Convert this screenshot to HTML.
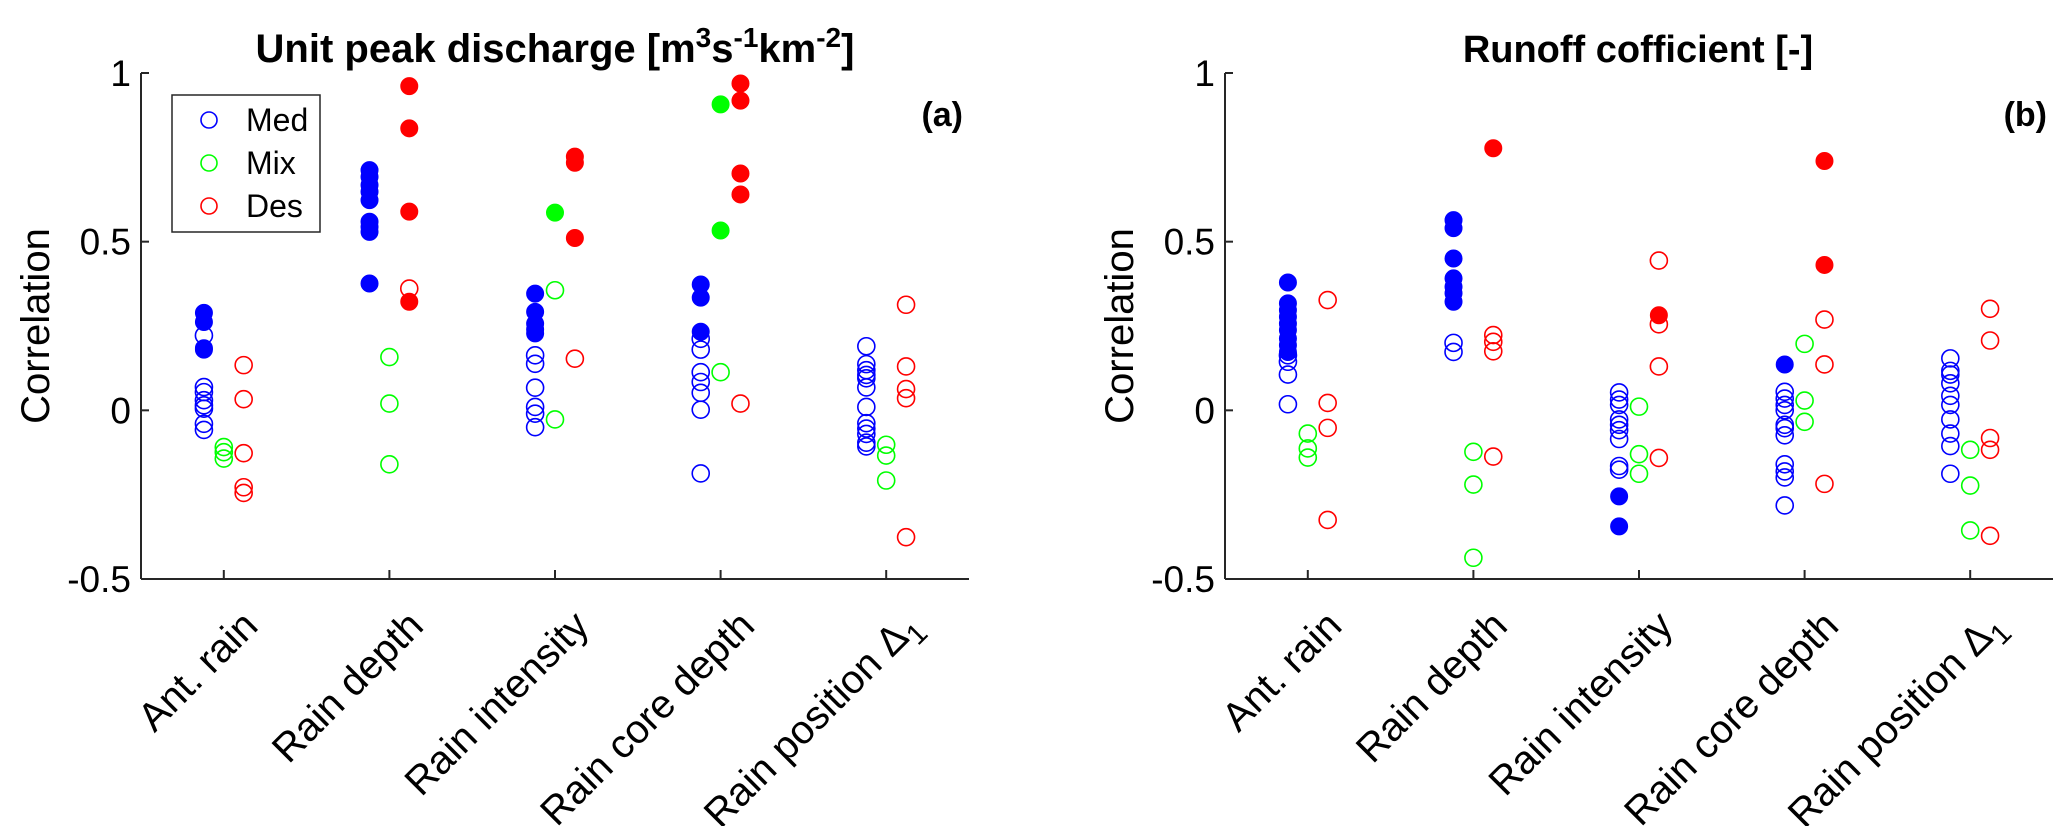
<!DOCTYPE html>
<html><head><meta charset="utf-8"><style>
html,body{margin:0;padding:0;background:#fff;}
svg{display:block;font-family:"Liberation Sans",Arial,sans-serif;}
</style></head><body>
<svg id="chart" width="2067" height="826" viewBox="0 0 2067 826" xmlns="http://www.w3.org/2000/svg"></svg>
<script>
const categories = ["Ant. rain","Rain depth","Rain intensity","Rain core depth","Rain position \u0394"];
const yTicks = [-0.5, 0, 0.5, 1];
const yTickLabels = ["-0.5","0","0.5","1"];
const groupNames = ["Med","Mix","Des"];
const groupColors = ["#0000ff","#00ff00","#ff0000"];

// Panel (a): unit peak discharge
const aMedFilled = [[0.289,0.262,0.184,0.18],[0.712,0.692,0.668,0.648,0.623,0.559,0.544,0.529,0.376],[0.346,0.292,0.257,0.24,0.228],[0.373,0.334,0.233],[]];
const aMedOpen = [[0.222,0.069,0.054,0.03,0.015,0.005,-0.04,-0.058],[],[0.163,0.138,0.067,0.01,-0.01,-0.05],[0.212,0.18,0.113,0.084,0.052,0.002,-0.187],[0.19,0.137,0.119,0.105,0.095,0.068,0.01,-0.038,-0.054,-0.07,-0.096,-0.107]];
const aMixFilled = [[],[],[0.586],[0.907,0.533],[]];
const aMixOpen = [[-0.109,-0.124,-0.143],[0.158,0.02,-0.16],[0.356,-0.027],[0.113],[-0.102,-0.134,-0.208]];
const aDesFilled = [[],[0.961,0.836,0.589,0.322],[0.752,0.734,0.511],[0.969,0.918,0.702,0.64],[]];
const aDesOpen = [[0.134,0.033,-0.127,-0.228,-0.245],[0.361],[0.153],[0.02],[0.313,0.13,0.063,0.036,-0.376]];

// Panel (b): runoff coefficient
const bMedFilled = [[0.379,0.317,0.297,0.277,0.257,0.238,0.213,0.193,0.173],[0.564,0.54,0.45,0.391,0.366,0.347,0.322],[-0.255,-0.344],[0.136],[]];
const bMedOpen = [[0.163,0.144,0.106,0.018],[0.2,0.173],[0.053,0.032,0.016,-0.027,-0.043,-0.059,-0.085,-0.165,-0.176],[0.055,0.035,0.016,0,-0.043,-0.053,-0.074,-0.16,-0.181,-0.199,-0.282],[0.154,0.117,0.106,0.08,0.043,0.016,-0.027,-0.069,-0.106,-0.188]];
const bMixFilled = [[],[],[],[],[]];
const bMixOpen = [[-0.069,-0.113,-0.14],[-0.123,-0.22,-0.437],[0.011,-0.13,-0.188],[0.197,0.029,-0.034],[-0.117,-0.223,-0.356]];
const bDesFilled = [[],[0.777],[0.282],[0.739,0.431],[]];
const bDesOpen = [[0.327,0.022,-0.052,-0.325],[0.223,0.203,0.175,-0.137],[0.444,0.255,0.13,-0.141],[0.269,0.136,-0.218],[0.301,0.207,-0.082,-0.117,-0.372]];

const NS = "http://www.w3.org/2000/svg";
const svg = document.getElementById("chart");
function mk(tag, attrs, parent){const e=document.createElementNS(NS,tag);for(const k in attrs)e.setAttribute(k,attrs[k]);(parent||svg).appendChild(e);return e;}

const yTop = 73, yBot = 579, yMin = -0.5, yMax = 1;
function yScale(v){return yBot - (v - yMin) / (yMax - yMin) * (yBot - yTop);}

function drawPanel(cfg){
  const g = mk("g",{});
  
  
  const L = cfg.left, R = cfg.right;
  function xScale(u){return L + (u - 0.5) / 5 * (R - L);}
  const axc = "#262626";
  const ya = mk("line",{x1:L,y1:yTop,x2:L,y2:yBot,stroke:axc,"stroke-width":2},g);
  
  
  const xa = mk("line",{x1:L,y1:yBot,x2:R,y2:yBot,stroke:axc,"stroke-width":2},g);
  
  
  yTicks.forEach((t,i)=>{
    const y = yScale(t);
    mk("line",{x1:L,y1:y,x2:L+8,y2:y,stroke:axc,"stroke-width":2},g);
    const tl = mk("text",{x:L-10,y:y+13,"text-anchor":"end","font-size":37,fill:"#000"},g);
    tl.textContent = yTickLabels[i];
    
    
  });
  categories.forEach((c,i)=>{
    const x = xScale(i+1);
    mk("line",{x1:x,y1:yBot,x2:x,y2:yBot-9,stroke:axc,"stroke-width":2},g);
    const ax = x + 36, ay = 628;
    const tl = mk("text",{x:ax,y:ay,"text-anchor":"end","font-size":40,fill:"#000",transform:`rotate(-45 ${ax} ${ay})`},g);
    
    
    if(i===4){
      tl.textContent = c;
      const s = mk("tspan",{dy:10,"font-size":29},tl);
      s.textContent = "1";
    } else tl.textContent = c;
  });
  const yl = mk("text",{x:0,y:0,"text-anchor":"middle","font-size":40,fill:"#000",transform:`translate(${L-92} ${(yTop+yBot)/2}) rotate(-90)`},g);
  yl.textContent = "Correlation";
  
  
  const pl = mk("text",{x:R-6,y:126,"text-anchor":"end","font-size":34,"font-weight":"bold",fill:"#000"},g);
  pl.textContent = cfg.letter;
  
  
  const offs = [-0.12, 0, 0.12];
  cfg.series.forEach((ser,gi)=>{
    const col = groupColors[gi];
    ser.open.forEach((vals,ci)=>{
      vals.forEach(v=>{
        const c = mk("circle",{cx:xScale(ci+1+offs[gi]),cy:yScale(v),r:8.5,fill:"none",stroke:col,"stroke-width":1.6},g);
        
        
      });
    });
    ser.filled.forEach((vals,ci)=>{
      vals.forEach(v=>{
        const c = mk("circle",{cx:xScale(ci+1+offs[gi]),cy:yScale(v),r:8.5,fill:col,stroke:col,"stroke-width":1},g);
        
        
      });
    });
  });
  return g;
}

drawPanel({name:"panel-a",letter:"(a)",left:141,right:969,series:[
  {filled:aMedFilled,open:aMedOpen},{filled:aMixFilled,open:aMixOpen},{filled:aDesFilled,open:aDesOpen}]});
drawPanel({name:"panel-b",letter:"(b)",left:1225,right:2053,series:[
  {filled:bMedFilled,open:bMedOpen},{filled:bMixFilled,open:bMixOpen},{filled:bDesFilled,open:bDesOpen}]});

const t1 = mk("text",{x:555,y:62,"text-anchor":"middle","font-size":40,"font-weight":"bold",fill:"#000"});


(function(){
  const parts = [["Unit peak discharge [m",0,40],["3",-15,28],["s",15,40],["-1",-15,28],["km",15,40],["-2",-15,28],["]",15,40]];
  parts.forEach(p=>{const s=mk("tspan",{dy:p[1],"font-size":p[2]},t1);s.textContent=p[0];});
})();
const t2 = mk("text",{x:1638,y:62,"text-anchor":"middle","font-size":38,"font-weight":"bold",fill:"#000"});
t2.textContent = "Runoff cofficient [-]";



const lg = mk("g",{});


mk("rect",{x:172,y:95,width:148,height:137,fill:"#fff",stroke:"#262626","stroke-width":1.5},lg);
groupNames.forEach((n,i)=>{
  const cy = 120 + i*43;
  const e = mk("g",{},lg);
  
  
  mk("circle",{cx:209,cy:cy,r:8,fill:"none",stroke:groupColors[i],"stroke-width":1.6},e);
  const t = mk("text",{x:246,y:cy+11,"font-size":32,fill:"#000"},e);
  t.textContent = n;
});
</script>
</body></html>
